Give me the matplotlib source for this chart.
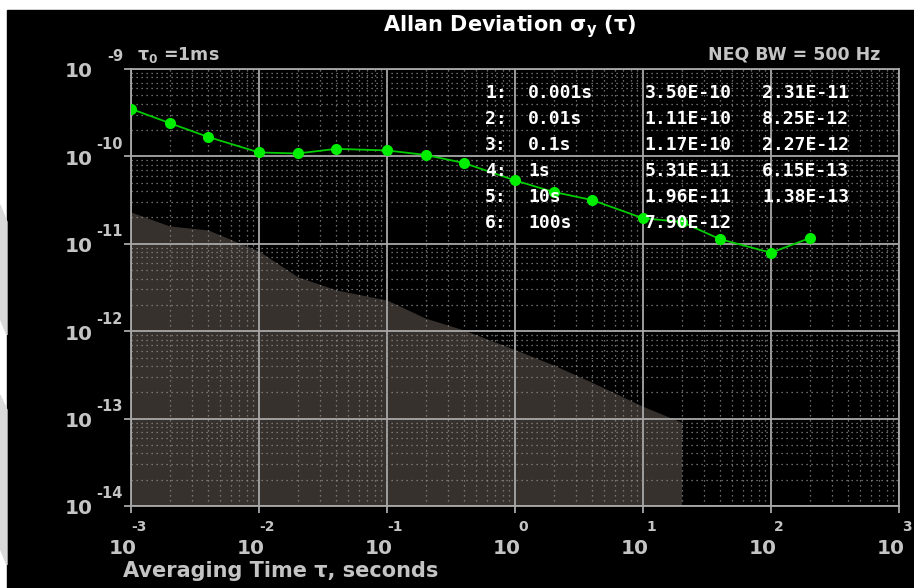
import numpy as np
import matplotlib
matplotlib.use('Agg')
import matplotlib.pyplot as plt
from matplotlib.patches import Rectangle, Polygon
from matplotlib.ticker import LogLocator, NullFormatter
from matplotlib.transforms import offset_copy

# 数据
tau = [1e-3, 2e-3, 4e-3, 1e-2, 2e-2, 4e-2, 0.1, 0.2, 0.4,
       1, 2, 4, 10, 20, 40, 100, 200]
adev = [3.50e-10, 2.41e-10, 1.67e-10, 1.11e-10, 1.08e-10, 1.22e-10,
        1.17e-10, 1.04e-10, 8.4e-11, 5.31e-11, 3.92e-11, 3.17e-11,
        1.96e-11, 1.78e-11, 1.13e-11, 7.90e-12, 1.16e-11]
# 噪声底（阴影区域上边界）
noise_tau = tau[:14]
noise = [2.31e-11, 1.60e-11, 1.44e-11, 8.25e-12, 4.2e-12, 2.97e-12,
         2.27e-12, 1.41e-12, 1.03e-12, 6.15e-13, 4.1e-13, 2.6e-13,
         1.38e-13, 9.1e-14]

table_idx = ['1:', '2:', '3:', '4:', '5:', '6:']
table_tau = ['0.001s', '0.01s', '0.1s', '1s', '10s', '100s']
table_adev = ['3.50E-10', '1.11E-10', '1.17E-10', '5.31E-11', '1.96E-11', '7.90E-12']
table_err = ['2.31E-11', '8.25E-12', '2.27E-12', '6.15E-13', '1.38E-13', '']

x_decades = [-3, -2, -1, 0, 1, 2, 3]
y_decades = [-14, -13, -12, -11, -10, -9]

W, H = 914, 588
GRAY = '#c4c4c4'
FILL = '#36312d'

fig = plt.figure(figsize=(W / 100, H / 100), dpi=100)
fig.patch.set_facecolor('white')

# 黑色面板与浅灰水印
fig.add_artist(Rectangle((7 / W, 0), 1, 1 - 10 / H, transform=fig.transFigure,
                         color='black', zorder=-10))
for pts in ([(0, 205), (7, 222), (7, 335), (0, 318)],
            [(0, 395), (7, 410), (7, 565), (0, 548)]):
    fig.add_artist(Polygon([(x / W, 1 - y / H) for x, y in pts],
                           transform=fig.transFigure, color='#d9d9d9', zorder=-10))

ax = fig.add_axes([131 / W, 1 - 506 / H, 768 / W, 437 / H])
ax.set_facecolor('black')
ax.set_xscale('log')
ax.set_yscale('log')
ax.set_xlim(1e-3, 1e3)
ax.set_ylim(1e-14, 1e-9)

# 网格
ax.xaxis.set_major_locator(LogLocator(base=10, numticks=20))
ax.yaxis.set_major_locator(LogLocator(base=10, numticks=20))
ax.xaxis.set_minor_locator(LogLocator(base=10, subs=np.arange(2, 10), numticks=20))
ax.yaxis.set_minor_locator(LogLocator(base=10, subs=np.arange(2, 10), numticks=20))
ax.xaxis.set_major_formatter(NullFormatter())
ax.yaxis.set_major_formatter(NullFormatter())
ax.xaxis.set_minor_formatter(NullFormatter())
ax.yaxis.set_minor_formatter(NullFormatter())
ax.grid(which='major', color='#a8a8a8', lw=1.3, ls='-')
ax.grid(which='minor', color='#8c8c8c', lw=0.9, ls=(0, (1, 3)))
ax.tick_params(which='major', length=5, width=1.3, color='#a8a8a8', direction='out')
ax.tick_params(which='minor', length=0)
for sp in ax.spines.values():
    sp.set_color('#a8a8a8')
    sp.set_linewidth(1.3)

# 阴影区域与数据曲线
ax.fill_between(noise_tau, 1e-14, noise, color=FILL, lw=0, zorder=1)
ax.plot(tau, adev, '-', color='#00cc00', lw=1.3, zorder=3)
ax.plot(tau, adev, 'o', color='#00ee00', ms=7, mec='#00ee00', zorder=4)

# 坐标刻度标签
xt = ax.get_xaxis_transform()
for d in x_decades:
    ax.text(10.0 ** d, 0, '10', transform=offset_copy(xt, fig, x=-8, y=-42, units='dots'),
            ha='center', va='center', fontsize=14.5, fontweight='bold', color=GRAY,
            clip_on=False)
    ax.text(10.0 ** d, 0, str(d), transform=offset_copy(xt, fig, x=8, y=-21, units='dots'),
            ha='center', va='center', fontsize=10, fontweight='bold', color=GRAY,
            clip_on=False)
yt = ax.get_yaxis_transform()
for d in y_decades:
    ax.text(0, 10.0 ** d, '10', transform=offset_copy(yt, fig, x=-38, y=-3, units='dots'),
            ha='right', va='center', fontsize=14.5, fontweight='bold', color=GRAY,
            clip_on=False)
    ax.text(0, 10.0 ** d, str(d), transform=offset_copy(yt, fig, x=-8, y=12, units='dots'),
            ha='right', va='center', fontsize=10.5, fontweight='bold', color=GRAY,
            clip_on=False)

fig.text(123 / W, 1 - 571 / H, 'Averaging Time τ, seconds', ha='left', va='center',
         fontsize=15, fontweight='bold', color=GRAY)
fig.text(510 / W, 1 - 27 / H, r'Allan Deviation σ$_\mathbf{y}$ (τ)', ha='center',
         va='center', fontsize=15, fontweight='bold', color='white')
fig.text(880 / W, 1 - 55 / H, 'NEQ BW = 500 Hz', ha='right', va='center',
         fontsize=12.5, fontweight='bold', color=GRAY)
fig.text(137 / W, 1 - 55 / H, r'τ$_\mathbf{0}$ =1ms', ha='left', va='center',
         fontsize=12.5, fontweight='bold', color=GRAY)

# 结果表
cols = [(0.461, table_idx), (0.517, table_tau), (0.669, table_adev), (0.822, table_err)]
for i in range(len(table_idx)):
    y = 0.945 - i * 0.0595
    for cx, col in cols:
        ax.text(cx, y, col[i], transform=ax.transAxes, ha='left', va='center',
                fontsize=13, fontweight='bold', color='white',
                family='DejaVu Sans Mono', zorder=5)

fig.savefig('out.png', dpi=100, facecolor=fig.get_facecolor())
